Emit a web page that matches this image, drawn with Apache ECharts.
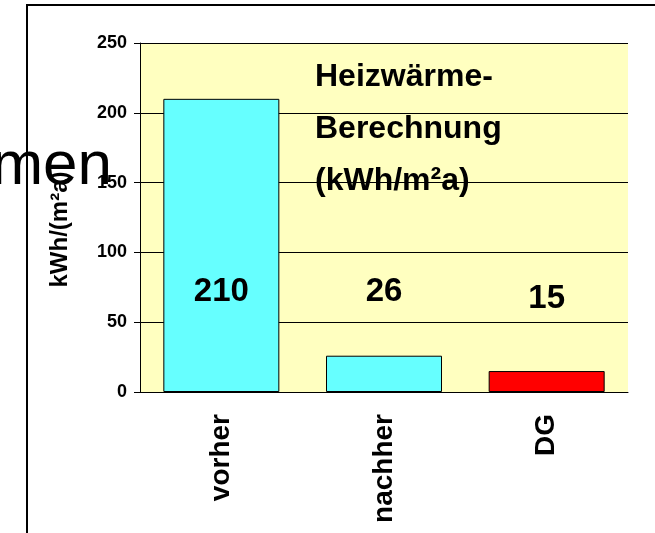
<!doctype html>
<html>
    <head>
        <meta charset="utf-8">
        <title>Heizwärme-Berechnung</title>
        <style>
            html, body { margin: 0; padding: 0; background: #fff; }
            #main { width: 655px; height: 533px; }
        </style>
    </head>
    <body>
        <div id="main"></div>
        <script src="https://cdn.jsdelivr.net/npm/echarts@6/dist/echarts.min.js"></script>
        <script>

            // values
            var categories = ['vorher', 'nachher', 'DG'];
            var values = [210, 26, 15];
            var yTicks = [0, 50, 100, 150, 200, 250];

            var myChart = echarts.init(document.getElementById('main'));

            var font = 'Liberation Sans, Arial, sans-serif';

            var barData = values.map(function (v, i) {
                return {
                    value: v,
                    itemStyle: {
                        color: categories[i] === 'DG' ? '#ff0000' : '#66ffff'
                    },
                    label: {
                        offset: categories[i] === 'DG' ? [0, -77] : [0, -84]
                    }
                };
            });

            myChart.setOption({
                animation: false,
                backgroundColor: '#fff',
                grid: {
                    left: 140,
                    right: 27,
                    top: 43,
                    bottom: 141,
                    show: true,
                    backgroundColor: '#ffffc0',
                    borderWidth: 0
                },
                xAxis: {
                    type: 'category',
                    data: categories,
                    axisLine: { lineStyle: { color: '#000', width: 1 } },
                    axisTick: {
                        length: 8,
                        lineStyle: { color: '#808080' }
                    },
                    axisLabel: {
                        rotate: 90,
                        margin: 22,
                        color: '#000',
                        fontFamily: font,
                        fontWeight: 'bold',
                        fontSize: 28
                    }
                },
                yAxis: {
                    type: 'value',
                    min: yTicks[0],
                    max: yTicks[yTicks.length - 1],
                    interval: 50,
                    name: 'kWh/(m²a)',
                    nameLocation: 'middle',
                    nameGap: 68,
                    nameTextStyle: {
                        color: '#000',
                        fontFamily: font,
                        fontWeight: 'bold',
                        fontSize: 24,
                        padding: [0, 24, 0, 0]
                    },
                    axisLine: { show: true, lineStyle: { color: '#000', width: 1 } },
                    axisTick: { show: true, length: 6, lineStyle: { color: '#000' } },
                    axisLabel: {
                        margin: 13,
                        color: '#000',
                        fontFamily: font,
                        fontWeight: 'bold',
                        fontSize: 18
                    },
                    splitLine: { lineStyle: { color: '#000', width: 1 } }
                },
                series: [{
                    type: 'bar',
                    data: barData,
                    barWidth: 116,
                    itemStyle: {
                        borderColor: '#000',
                        borderWidth: 1
                    },
                    label: {
                        show: true,
                        position: 'insideBottom',
                        distance: 0,
                        color: '#000',
                        fontFamily: font,
                        fontWeight: 'bold',
                        fontSize: 33
                    }
                }],
                graphic: [{
                    type: 'rect',
                    z: 0,
                    shape: { x: 27, y: 5, width: 700, height: 600 },
                    style: { fill: null, stroke: '#000', lineWidth: 2 },
                    silent: true
                }, {
                    type: 'text',
                    z: 100,
                    left: 315,
                    top: 51,
                    style: {
                        text: 'Heizwärme-\nBerechnung\n(kWh/m²a)',
                        font: 'bold 32px Liberation Sans, Arial, sans-serif',
                        lineHeight: 52,
                        fill: '#000'
                    }
                }, {
                    type: 'text',
                    z: 100,
                    x: 112,
                    y: 198,
                    style: {
                        text: 'men',
                        font: '62px Liberation Sans, Arial, sans-serif',
                        textAlign: 'right',
                        textVerticalAlign: 'bottom',
                        fill: '#000'
                    }
                }]
            });

        </script>
    </body>
</html>
